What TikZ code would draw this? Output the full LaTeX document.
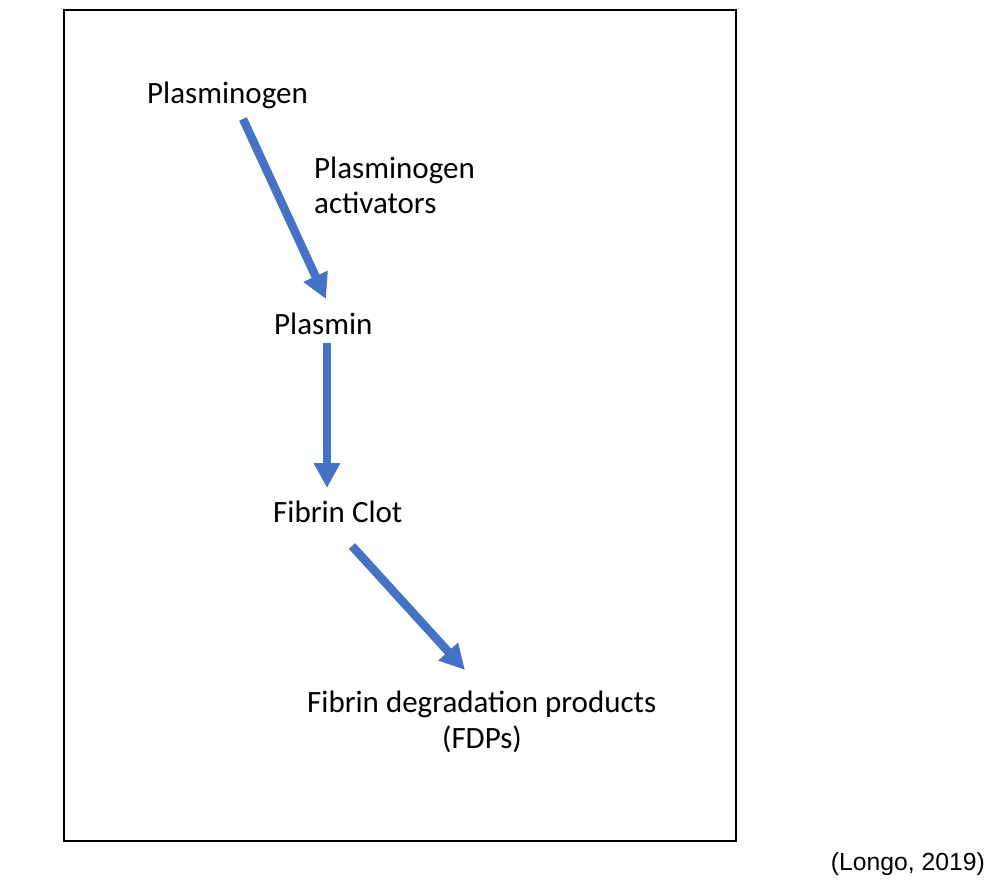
\documentclass[tikz,border=0pt]{standalone}
\usepackage{fontspec}
\setmainfont{Carlito}
\newfontfamily\citefont{Liberation Sans}
\usetikzlibrary{arrows.meta}
\definecolor{arrowblue}{HTML}{4472C4}
\tikzset{
  lbl/.style={inner sep=0pt, anchor=base west, font=\fontsize{31}{37}\selectfont},
  flowarrow/.style={draw=arrowblue, line width=8.5pt, -{Triangle[length=25pt,width=25pt]}},
}
\begin{document}
\begin{tikzpicture}[x=1pt,y=-1pt]
\useasboundingbox (0,0) rectangle (1002,886);
\draw[line width=1.5pt] (64,10) rectangle (736,841);
\node[lbl] (plg) at (147,103) {Plasminogen};
\node[lbl] (act1) at (314,178) {Plasminogen};
\node[lbl] (act2) at (314,213) {activators};
\node[lbl] (pls) at (274,334) {Plasmin};
\node[lbl] (fc) at (273,522) {Fibrin Clot};
\node[lbl] (fdp1) at (307,712) {Fibrin degradation products};
\node[lbl, anchor=base] (fdp2) at (482,748) {(FDPs)};
\node[inner sep=0pt, anchor=base east, font=\citefont\fontsize{24.7}{29}\selectfont] (cite) at (985,870) {(Longo, 2019)};
\coordinate (a1s) at (243,119);
\coordinate (a1e) at (326,299);
\coordinate (a2s) at (327,343);
\coordinate (a2e) at (327,488);
\coordinate (a3s) at (352,546);
\coordinate (a3e) at (465,670);
\draw[flowarrow] (a1s) -- (a1e);
\draw[flowarrow] (a2s) -- (a2e);
\draw[flowarrow] (a3s) -- (a3e);
\end{tikzpicture}
\end{document}
